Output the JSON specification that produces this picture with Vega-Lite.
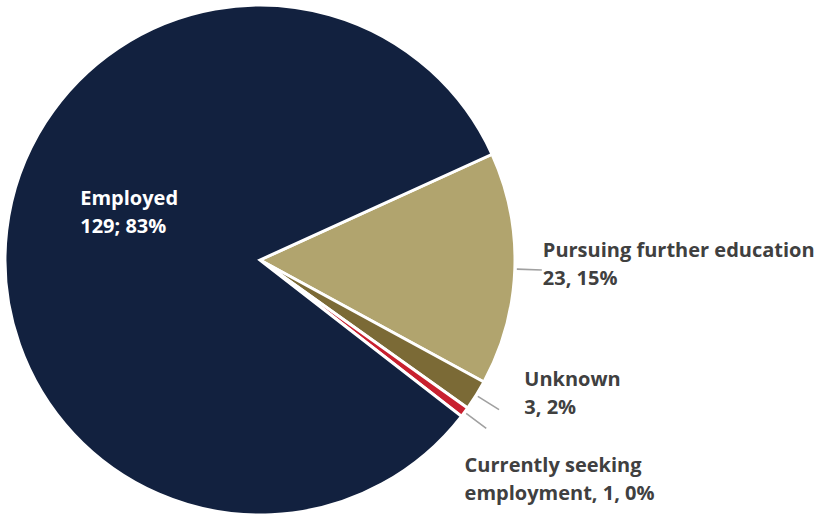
{
  "$schema": "https://vega.github.io/schema/vega-lite/v6.json",
  "width": 510,
  "height": 510,
  "padding": {"left": 5, "top": 5, "right": 305, "bottom": 0},
  "autosize": {"type": "none"},
  "background": "white",
  "config": {"view": {"stroke": null}},
  "data": {
    "values": [
      {"status": "Pursuing further education", "count": 23, "rank": 1, "label": "Pursuing further education\n23, 15%"},
      {"status": "Unknown", "count": 3, "rank": 2, "label": "Unknown\n3, 2%"},
      {"status": "Currently seeking employment", "count": 1, "rank": 3, "label": "Currently seeking\nemployment, 1, 0%"},
      {"status": "Employed", "count": 129, "rank": 4, "label": "Employed\n129; 83%"}
    ]
  },
  "layer": [
    {
      "mark": {"type": "arc", "stroke": "white", "strokeWidth": 3},
      "encoding": {
        "theta": {"field": "count", "type": "quantitative", "stack": true, "scale": {"domain": [0, 156], "range": [1.1432, 7.4264]}},
        "order": {"field": "rank", "type": "quantitative", "sort": "ascending"},
        "color": {
          "field": "status", "type": "nominal", "legend": null,
          "scale": {
            "domain": ["Employed", "Pursuing further education", "Unknown", "Currently seeking employment"],
            "range": ["#12213F", "#B1A46E", "#7B6A36", "#C8202F"]
          }
        }
      }
    },
    {
      "transform": [
        {"stack": "count", "groupby": [], "sort": [{"field": "rank", "order": "ascending"}], "as": ["s0", "s1"]},
        {"fold": ["s0", "s1"]},
        {"aggregate": [{"op": "mean", "field": "value", "as": "mid"}], "groupby": ["status"]},
        {"filter": "datum.status !== 'Employed'"}
      ],
      "mark": {"type": "arc", "stroke": "#A0A0A0", "strokeWidth": 1.6, "fillOpacity": 0},
      "encoding": {
        "theta": {"field": "mid", "type": "quantitative"},
        "theta2": {"field": "mid"},
        "radius": {"value": 282},
        "radius2": {"value": 257}
      }
    },
    {
      "mark": {"type": "text", "radius": 180, "align": "left", "baseline": "alphabetic", "dx": -1, "dy": -34, "font": "Open Sans", "fontWeight": "bold", "fontSize": 20, "lineHeight": 28, "lineBreak": "\n", "color": "white"},
      "encoding": {
        "theta": {"field": "count", "type": "quantitative", "stack": true},
        "order": {"field": "rank", "type": "quantitative", "sort": "ascending"},
        "detail": {"field": "status", "type": "nominal"},
        "text": {"condition": {"test": "datum.status === 'Employed'", "field": "label"}, "value": ""}
      }
    },
    {
      "mark": {"type": "text", "radius": 283, "align": "left", "baseline": "alphabetic", "dx": 0, "dy": -13, "font": "Open Sans", "fontWeight": "bold", "fontSize": 20, "lineHeight": 28, "lineBreak": "\n", "color": "#404040"},
      "encoding": {
        "theta": {"field": "count", "type": "quantitative", "stack": true},
        "order": {"field": "rank", "type": "quantitative", "sort": "ascending"},
        "detail": {"field": "status", "type": "nominal"},
        "text": {"condition": {"test": "datum.status === 'Pursuing further education'", "field": "label"}, "value": ""}
      }
    },
    {
      "mark": {"type": "text", "radius": 300, "align": "left", "baseline": "alphabetic", "dx": 10, "dy": -33, "font": "Open Sans", "fontWeight": "bold", "fontSize": 20, "lineHeight": 28, "lineBreak": "\n", "color": "#404040"},
      "encoding": {
        "theta": {"field": "count", "type": "quantitative", "stack": true},
        "order": {"field": "rank", "type": "quantitative", "sort": "ascending"},
        "detail": {"field": "status", "type": "nominal"},
        "text": {"condition": {"test": "datum.status === 'Unknown'", "field": "label"}, "value": ""}
      }
    },
    {
      "mark": {"type": "text", "radius": 260, "align": "left", "baseline": "alphabetic", "dx": -4, "dy": 57, "font": "Open Sans", "fontWeight": "bold", "fontSize": 20, "lineHeight": 28, "lineBreak": "\n", "color": "#404040"},
      "encoding": {
        "theta": {"field": "count", "type": "quantitative", "stack": true},
        "order": {"field": "rank", "type": "quantitative", "sort": "ascending"},
        "detail": {"field": "status", "type": "nominal"},
        "text": {"condition": {"test": "datum.status === 'Currently seeking employment'", "field": "label"}, "value": ""}
      }
    }
  ]
}
